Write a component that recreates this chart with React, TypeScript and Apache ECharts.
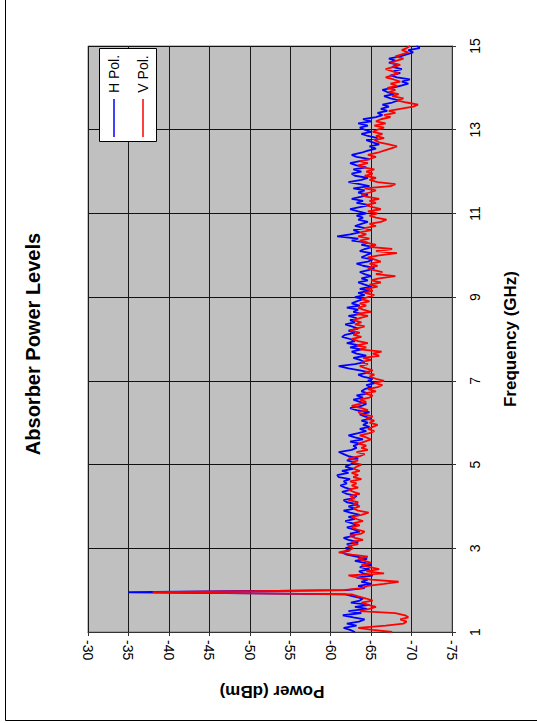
import React, { useEffect, useRef } from "react";
import * as echarts from "echarts";

// Frequency sampling (GHz)
const FREQ_START = 1.0;
const FREQ_STEP = 0.05;

// Power levels (dBm), one value per FREQ_STEP starting at FREQ_START
const hPol = [
  -63.0, -62.4, -61.6, -63.2, -62.0, -63.5, -64.2, -62.8, -61.5, -63.8,
  -62.2, -64.5, -63.0, -64.8, -62.5, -63.6, -64.0, -62.8, -61.8, -35.0,
  -62.0, -64.2, -63.4, -65.0, -63.8, -64.6, -63.2, -65.2, -64.0, -63.5,
  -64.8, -63.6, -65.0, -64.2, -63.0, -64.5, -63.2, -62.0, -61.4, -62.4,
  -61.8, -62.6, -62.0, -63.4, -62.2, -61.6, -63.0, -62.4, -63.6, -62.8,
  -62.0, -63.2, -62.6, -61.8, -63.0, -62.2, -63.6, -62.4, -61.6, -63.0,
  -62.2, -63.4, -62.0, -61.6, -62.8, -63.2, -62.0, -61.4, -62.6, -61.8,
  -61.2, -62.0, -61.6, -62.4, -61.0, -60.8, -62.2, -61.4, -62.8, -61.8,
  -62.4, -63.0, -62.0, -63.4, -62.2, -61.6, -61.0, -62.6, -63.2, -62.8,
  -63.6, -62.4, -64.0, -63.0, -62.2, -63.4, -64.4, -63.6, -64.8, -64.0,
  -64.6, -63.8, -65.0, -64.2, -63.6, -64.8, -63.2, -62.4, -63.8, -64.4,
  -63.6, -62.8, -64.0, -63.2, -64.6, -63.8, -64.2, -65.0, -64.4, -65.6,
  -64.6, -65.2, -64.0, -63.4, -64.8, -63.6, -62.2, -61.0, -63.0, -64.2,
  -63.6, -62.8, -64.4, -63.2, -62.6, -63.8, -62.4, -63.6, -62.0, -63.0,
  -62.4, -61.4, -61.8, -63.0, -62.2, -63.4, -62.6, -61.8, -63.0, -62.4,
  -63.2, -62.2, -63.8, -62.8, -63.4, -62.0, -63.6, -62.6, -63.2, -64.0,
  -63.0, -64.2, -63.4, -64.8, -63.6, -65.0, -64.2, -63.4, -64.6, -63.8,
  -65.0, -64.2, -63.6, -64.8, -65.4, -64.0, -63.2, -64.6, -65.2, -63.8,
  -64.4, -65.0, -63.6, -64.2, -65.2, -63.8, -64.6, -62.6, -63.4, -60.8,
  -62.4, -63.6, -62.8, -64.2, -63.0, -63.8, -64.6, -63.4, -64.0, -63.2,
  -64.4, -63.4, -62.4, -63.6, -64.8, -63.2, -64.0, -62.6, -63.8, -64.6,
  -63.4, -64.2, -62.8, -64.8, -63.6, -62.2, -63.8, -64.6, -63.0, -62.6,
  -63.8, -62.8, -64.4, -63.2, -62.4, -63.6, -64.8, -63.2, -62.6, -63.8,
  -64.6, -65.6, -64.8, -66.0, -65.2, -64.4, -65.8, -64.6, -63.8, -65.0,
  -64.2, -63.6, -64.6, -63.4, -65.0, -64.0, -65.6, -66.4, -65.8, -67.0,
  -66.2, -67.2, -66.4, -67.6, -68.4, -67.4, -66.6, -67.8, -67.0, -66.4,
  -67.6, -68.6, -69.6, -68.8, -69.8, -68.2, -67.4, -68.6, -67.8, -68.8,
  -67.6, -68.4, -67.2, -68.0, -67.2, -68.6, -69.4, -70.2, -69.6, -71.0,
  -70.6,
];

const vPol = [
  -67.6, -65.2, -63.4, -66.8, -69.0, -69.4, -68.6, -69.6, -69.2, -68.0,
  -63.6, -64.8, -65.6, -64.6, -63.8, -65.2, -64.4, -63.4, -62.6, -38.0,
  -61.6, -63.8, -64.6, -66.6, -68.4, -65.0, -63.4, -62.2, -66.6, -64.4,
  -66.0, -64.8, -63.8, -65.0, -64.2, -63.4, -64.6, -62.6, -61.0, -62.2,
  -62.8, -62.2, -63.4, -62.6, -64.0, -63.0, -62.4, -63.8, -64.2, -63.2,
  -62.6, -63.6, -62.8, -64.0, -63.2, -62.6, -63.8, -64.7, -63.4, -62.8,
  -63.6, -62.8, -63.4, -62.2, -63.0, -62.4, -63.6, -62.8, -62.2, -63.4,
  -62.6, -63.2, -62.4, -63.8, -62.8, -63.4, -62.6, -63.6, -62.8, -63.2,
  -63.8, -62.6, -63.4, -62.2, -63.6, -64.2, -63.2, -64.6, -63.8, -64.4,
  -63.4, -64.2, -65.0, -64.4, -63.6, -64.8, -65.4, -64.6, -65.2, -65.8,
  -64.8, -65.4, -64.4, -65.2, -64.0, -63.4, -64.6, -63.8, -62.6, -63.6,
  -64.4, -63.6, -64.8, -65.2, -64.2, -65.6, -64.6, -65.8, -66.4, -65.4,
  -66.6, -65.6, -64.8, -65.4, -64.2, -65.2, -64.4, -63.6, -64.6, -63.8,
  -65.0, -64.0, -66.0, -65.2, -66.3, -63.6, -64.4, -63.2, -64.6, -63.4,
  -62.6, -63.8, -62.8, -63.6, -62.4, -63.2, -64.2, -63.0, -63.8, -62.8,
  -63.6, -64.6, -63.2, -65.0, -64.0, -63.4, -64.4, -63.6, -64.8, -63.8,
  -64.6, -65.4, -64.2, -65.2, -64.4, -65.8, -64.8, -66.2, -65.0, -66.0,
  -68.0, -65.6, -66.4, -65.2, -64.6, -65.8, -64.8, -66.2, -65.4, -64.6,
  -66.0, -68.2, -65.6, -67.6, -64.8, -65.6, -64.4, -63.6, -64.8, -63.4,
  -64.4, -63.6, -65.0, -64.2, -65.6, -64.8, -66.2, -66.9, -65.6, -64.8,
  -65.8, -64.6, -66.2, -65.2, -64.4, -65.6, -64.8, -66.0, -64.4, -63.8,
  -64.8, -65.6, -64.2, -67.4, -68.0, -65.8, -64.8, -65.6, -64.2, -65.2,
  -64.4, -65.4, -64.0, -63.4, -64.6, -63.6, -64.8, -65.6, -64.6, -65.8,
  -66.6, -67.4, -68.2, -67.2, -66.0, -65.4, -66.6, -65.6, -66.4, -65.2,
  -65.8, -66.6, -65.4, -66.8, -65.6, -66.2, -67.4, -66.6, -68.0, -67.2,
  -68.6, -70.2, -70.8, -69.4, -68.2, -69.0, -67.6, -68.4, -67.2, -68.0,
  -67.0, -68.2, -67.4, -68.6, -67.8, -66.8, -67.6, -68.4, -67.6, -66.8,
  -67.8, -68.6, -67.4, -68.2, -69.0, -68.0, -68.8, -69.6, -68.8, -69.4,
  -69.8,
];

const seriesNames = ["H Pol.", "V Pol."];
const seriesColors = ["#0000FF", "#FF0000"];
const titleText = "Absorber Power Levels";
const xTitle = "Power (dBm)";
const yTitle = "Frequency (GHz)";

const FONT = "'Liberation Sans', Arial, sans-serif";

function toPairs(arr: number[]) {
  return arr.map((p, i) => [p, +(FREQ_START + i * FREQ_STEP).toFixed(2)]);
}

export default function App() {
  const ref = useRef<HTMLDivElement>(null);

  useEffect(() => {
    document.body.style.margin = "0";
    if (!ref.current) return;
    const chart = echarts.init(ref.current, undefined, { renderer: "svg" });
    const legendX = [114, 143];
    chart.setOption({
      animation: false,
      backgroundColor: "#FFFFFF",
      grid: {
        left: 88,
        right: 85,
        top: 46,
        bottom: 91,
        show: true,
        backgroundColor: "#C0C0C0",
        borderColor: "#808080",
        borderWidth: 1,
      },
      xAxis: {
        type: "value",
        min: -75,
        max: -30,
        interval: 5,
        inverse: true,
        position: "bottom",
        axisLine: { show: true, onZero: false, lineStyle: { color: "#333333", width: 1 } },
        axisTick: { show: true, length: 4, lineStyle: { color: "#333333" } },
        axisLabel: {
          rotate: -90,
          margin: 8,
          fontSize: 14,
          color: "#000000",
          fontFamily: FONT,
        },
        splitLine: { show: true, lineStyle: { color: "#1a1a1a", width: 1 } },
      },
      yAxis: {
        type: "value",
        min: 1,
        max: 15,
        interval: 2,
        position: "right",
        axisLine: { show: true, onZero: false, lineStyle: { color: "#333333", width: 1 } },
        axisTick: { show: true, length: 4, lineStyle: { color: "#333333" } },
        axisLabel: {
          rotate: 90,
          margin: 16,
          fontSize: 14,
          color: "#000000",
          fontFamily: FONT,
        },
        splitLine: { show: true, lineStyle: { color: "#111111", width: 1 } },
      },
      series: [hPol, vPol].map((arr, k) => ({
        type: "line",
        name: seriesNames[k],
        data: toPairs(arr),
        showSymbol: false,
        symbol: "none",
        lineStyle: { color: seriesColors[k], width: 1.8 },
        itemStyle: { color: seriesColors[k] },
        z: 3 + k,
      })),
      graphic: [
        {
          type: "rect",
          shape: { x: 5.5, y: -10, width: 600, height: 730.5 },
          style: { fill: "none", stroke: "#000000", lineWidth: 1 },
          silent: true,
        },
        {
          type: "text",
          x: 33,
          y: 344,
          rotation: Math.PI / 2,
          style: {
            text: titleText,
            fontSize: 20,
            fontWeight: "bold",
            fontFamily: FONT,
            fill: "#000000",
            align: "center",
            verticalAlign: "middle",
          },
        },
        {
          type: "text",
          x: 510,
          y: 339,
          rotation: Math.PI / 2,
          style: {
            text: yTitle,
            fontSize: 17,
            fontWeight: "bold",
            fontFamily: FONT,
            fill: "#000000",
            align: "center",
            verticalAlign: "middle",
          },
        },
        {
          type: "text",
          x: 272,
          y: 691,
          rotation: Math.PI,
          style: {
            text: xTitle,
            fontSize: 17,
            fontWeight: "bold",
            fontFamily: FONT,
            fill: "#000000",
            align: "center",
            verticalAlign: "middle",
          },
        },
        {
          type: "rect",
          z: 100,
          shape: { x: 99.5, y: 48.5, width: 57, height: 93 },
          style: { fill: "#FFFFFF", stroke: "#000000", lineWidth: 1 },
        },
        ...seriesNames.flatMap((name, k) => [
          {
            type: "line",
            z: 101,
            shape: { x1: legendX[k], y1: 99, x2: legendX[k], y2: 137 },
            style: { stroke: seriesColors[k], lineWidth: 1.5 },
          },
          {
            type: "text",
            z: 101,
            x: legendX[k],
            y: 74,
            rotation: Math.PI / 2,
            style: {
              text: name,
              fontSize: 14,
              fontFamily: FONT,
              fill: "#000000",
              align: "center",
              verticalAlign: "middle",
            },
          },
        ]),
      ],
    });
    return () => chart.dispose();
  }, []);

  return <div ref={ref} style={{ width: 537, height: 723 }} />;
}
